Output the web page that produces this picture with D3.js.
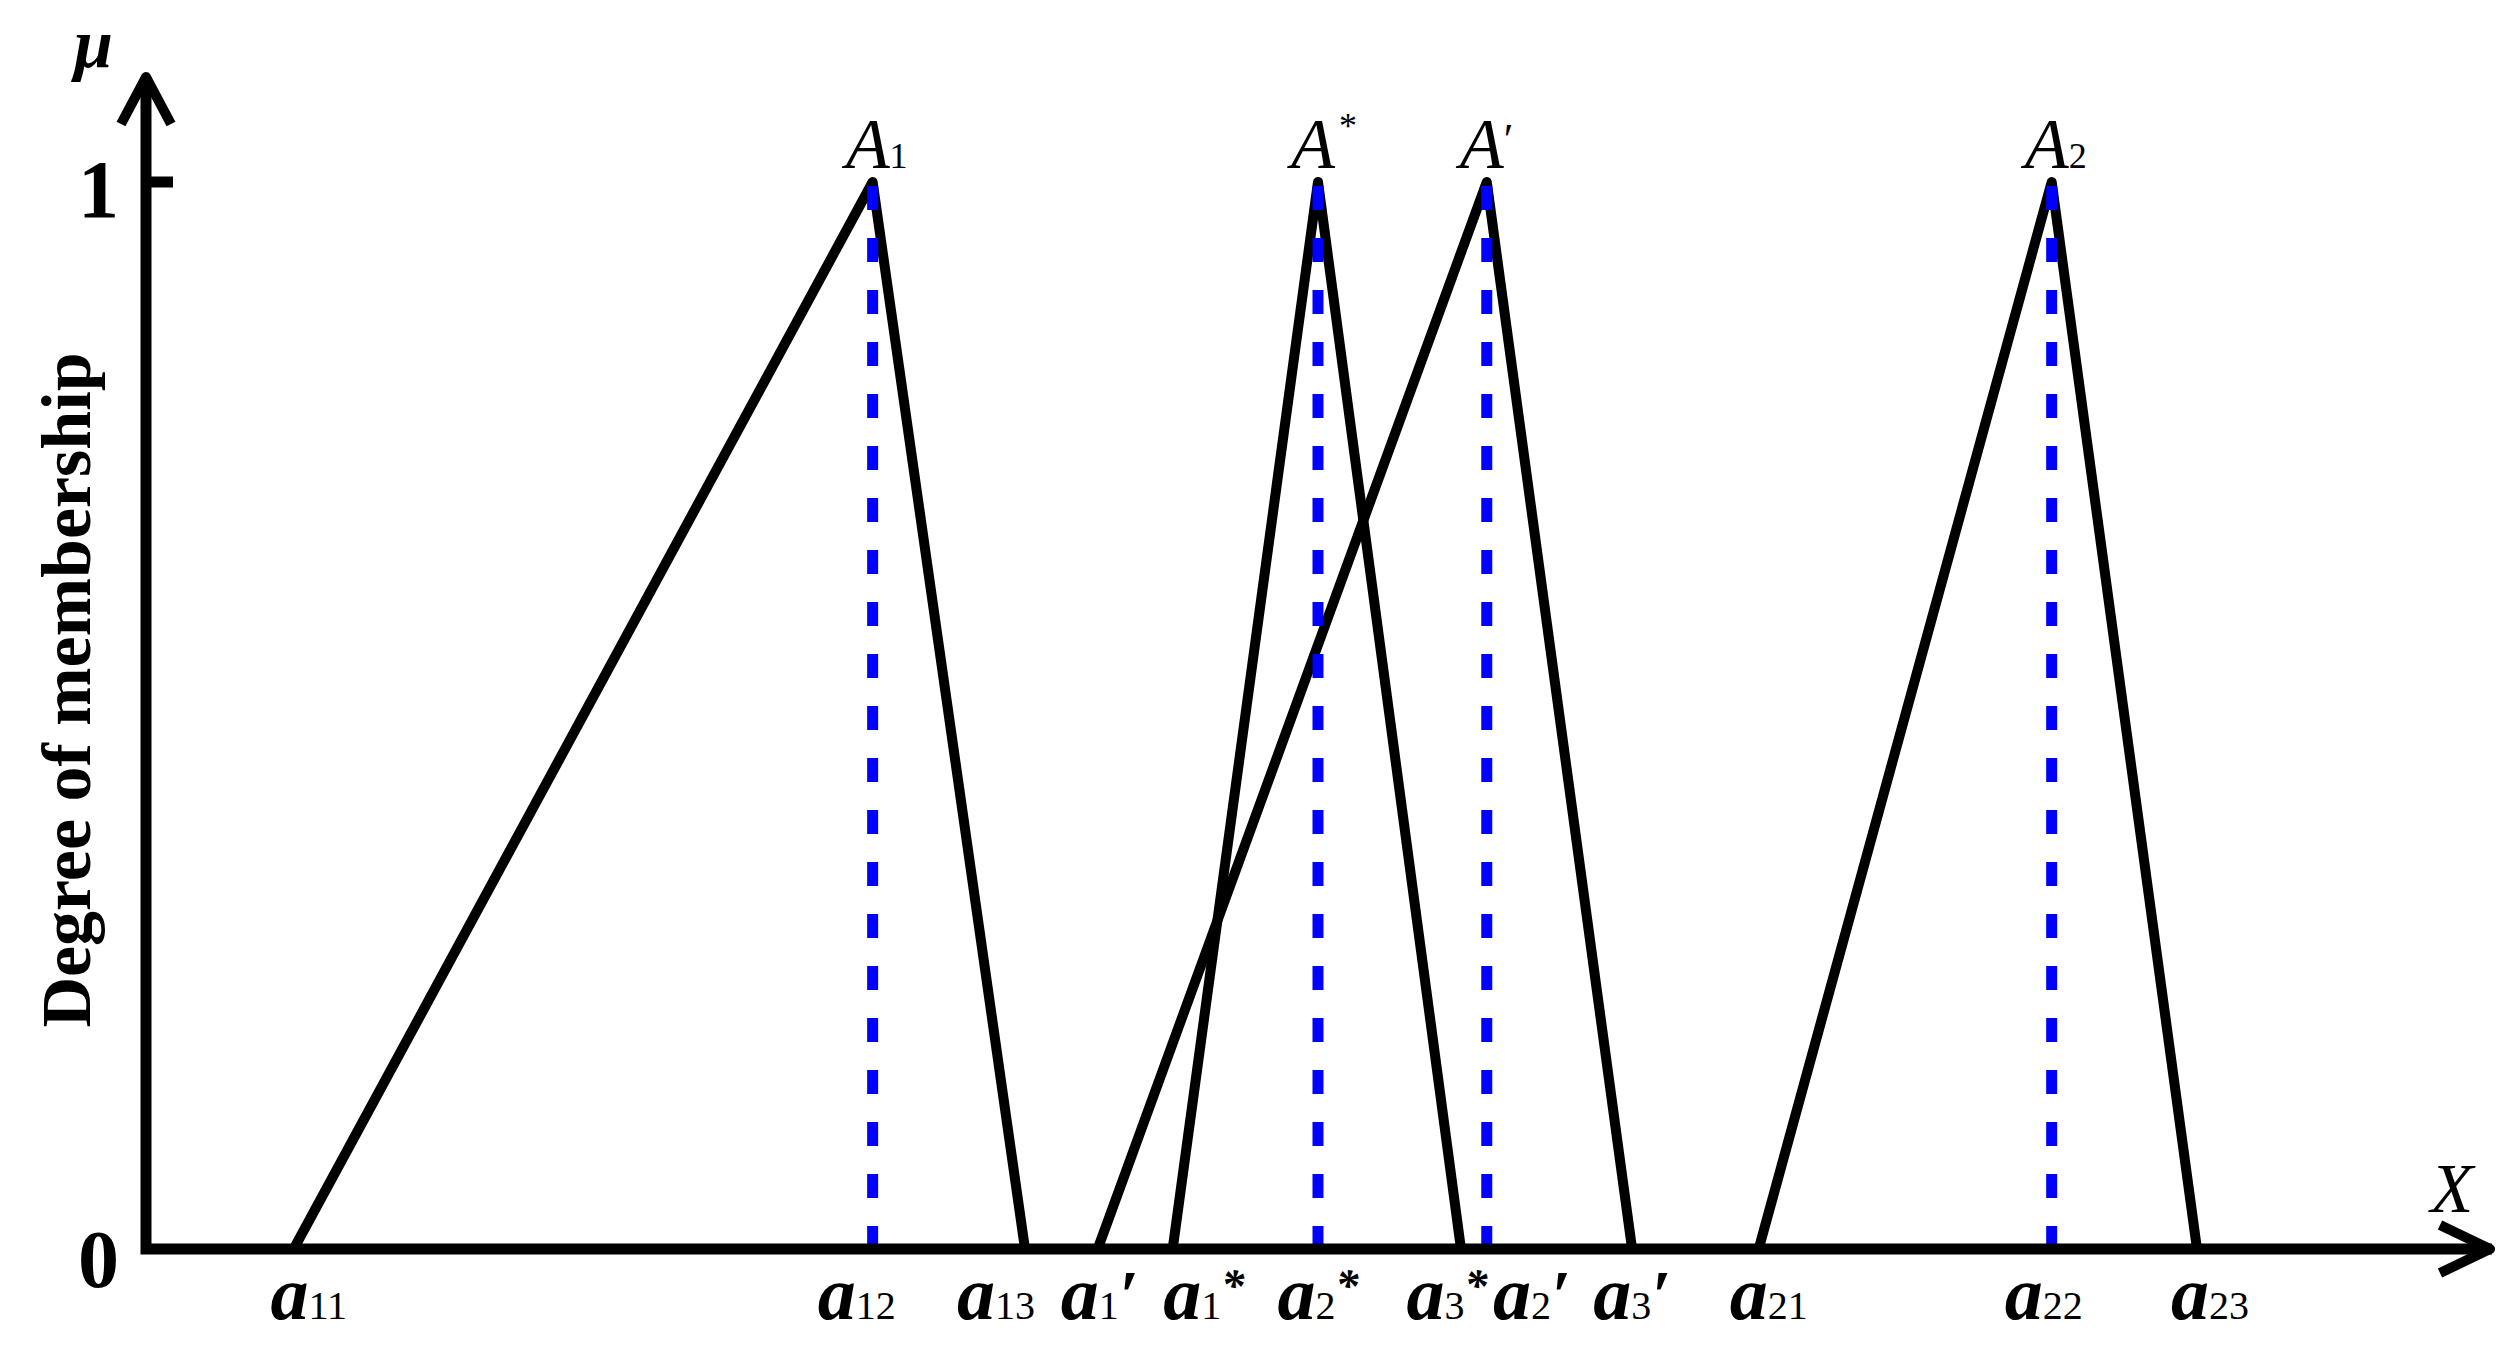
<!DOCTYPE html>
<html>
<head>
<meta charset="utf-8">
<script src="https://cdn.jsdelivr.net/npm/d3@7"></script>
<style>
  html, body { margin: 0; padding: 0; background: #fff; }
  svg { display: block; }
  text { font-family: "Liberation Serif", "Times New Roman", serif; fill: #000; }
</style>
</head>
<body>
<svg id="chart"></svg>
<script>
// fuzzy sets: left foot, peak, right foot (x units)
let setNames = ['A', 'A', 'A', 'A'];
let setMarks = ['1', '*', '′', '2'];
let leftFeet = [6.3, 43.8, 40.6, 68.8];
let peaks = [31.0, 50.0, 57.2, 81.3];
let rightFeet = [37.5, 56.1, 63.4, 87.5];

// x tick labels under the axis
let tickValues = [6.3, 31.0, 37.5, 40.6, 43.8, 50.0, 56.1, 57.2, 63.4, 68.8, 81.3, 87.5];
let tickSubs = ['11', '12', '13', '1', '1', '2', '3', '2', '3', '21', '22', '23'];
let tickMarks = ['', '', '', '′', '*', '*', '*', '′', '′', '', '', ''];

let yTicks = [0, 1];

let width = 2518, height = 1345;

let x = d3.scaleLinear().domain([0, 100]).range([146, 2490]);
let y = d3.scaleLinear().domain([0, 1]).range([1249, 182]);

let svg = d3.select('#chart')
		.attr('width', width)
		.attr('height', height);

let line = d3.line()
		.x(d => x(d[0]))
		.y(d => y(d[1]));

// triangles
let sets = peaks.map((p, i) => [[leftFeet[i], 0], [p, 1], [rightFeet[i], 0]]);

svg.append('g').selectAll('path')
		.data(sets)
	.enter().append('path')
		.attr('d', line)
		.attr('fill', 'none')
		.attr('stroke', '#000')
		.attr('stroke-width', 10)
		.attr('stroke-linejoin', 'round');

// dashed verticals at the peaks
svg.append('g').selectAll('path')
		.data(peaks)
	.enter().append('path')
		.attr('d', p => line([[p, 1], [p, 0]]))
		.attr('stroke', '#0000ff')
		.attr('stroke-width', 11)
		.attr('stroke-dasharray', '24,28')
		.attr('stroke-dashoffset', -4);

// axes with arrows
let x0 = x.range()[0], x1 = x.range()[1];
let yBase = y(0), yTop = 77;

svg.append('path')
		.attr('d', 'M' + x0 + ',' + yTop + 'V' + yBase + 'H' + (x1 + 2))
		.attr('fill', 'none')
		.attr('stroke', '#000')
		.attr('stroke-width', 11)
		.attr('stroke-linejoin', 'miter');

svg.append('path')
		.attr('d', 'M' + (x0 - 25) + ',' + (yTop + 47) + 'L' + x0 + ',' + yTop + 'L' + (x0 + 25) + ',' + (yTop + 47))
		.attr('fill', 'none')
		.attr('stroke', '#000')
		.attr('stroke-width', 10)
		.attr('stroke-linejoin', 'round');

svg.append('path')
		.attr('d', 'M' + (x1 - 50) + ',' + (yBase - 24) + 'L' + x1 + ',' + yBase + 'L' + (x1 - 50) + ',' + (yBase + 24))
		.attr('fill', 'none')
		.attr('stroke', '#000')
		.attr('stroke-width', 10)
		.attr('stroke-linejoin', 'round');

// y tick at 1
svg.append('line')
		.attr('x1', x0).attr('x2', x0 + 27)
		.attr('y1', y(1)).attr('y2', y(1))
		.attr('stroke', '#000')
		.attr('stroke-width', 11);

svg.selectAll('.ytick')
		.data(yTicks)
	.enter().append('text')
		.attr('class', 'ytick')
		.attr('x', 119)
		.attr('y', d => y(d) + (d === 0 ? 38 : 35))
		.attr('text-anchor', 'end')
		.attr('font-size', 82)
		.attr('font-weight', 'bold')
		.text(d => d);

// axis titles
svg.append('text')
		.attr('x', 74).attr('y', 67)
		.attr('font-size', 70)
		.attr('font-weight', 'bold')
		.attr('font-style', 'italic')
		.text('μ');

svg.append('text')
		.attr('x', 2452).attr('y', 1212)
		.attr('text-anchor', 'middle')
		.attr('font-size', 70)
		.attr('font-style', 'italic')
		.text('X');

svg.append('text')
		.attr('transform', 'translate(90,690) rotate(-90)')
		.attr('text-anchor', 'middle')
		.attr('font-size', 70)
		.attr('font-weight', 'bold')
		.text('Degree of membership');

// x tick labels, nudged apart where they crowd
let labelNudge = [15, -16, -29, 2, 31, 0, -14, 45, 0, 10, -8, 13];

let xl = svg.append('g').selectAll('text')
		.data(tickValues)
	.enter().append('text')
		.attr('x', (d, i) => x(d) + labelNudge[i])
		.attr('y', 1319)
		.attr('text-anchor', 'middle');

xl.append('tspan')
		.attr('font-size', 76)
		.attr('font-weight', 'bold')
		.attr('font-style', 'italic')
		.text('a');

xl.append('tspan')
		.attr('font-size', 40)
		.text((d, i) => tickSubs[i]);

xl.append('tspan')
		.attr('font-size', (d, i) => tickMarks[i] === '*' ? 46 : 70)
		.attr('font-weight', 'bold')
		.attr('font-style', 'italic')
		.attr('dy', (d, i) => tickMarks[i] === '*' ? -18 : 0)
		.text((d, i) => tickMarks[i]);

// set names above the peaks
let sl = svg.append('g').selectAll('text')
		.data(peaks)
	.enter().append('text')
		.attr('x', d => x(d) - 27)
		.attr('y', 168);

sl.append('tspan')
		.attr('font-size', 72)
		.attr('font-style', 'italic')
		.text((d, i) => setNames[i]);

sl.append('tspan')
		.attr('font-size', (d, i) => setMarks[i] === '′' ? 44 : 36)
		.attr('dy', (d, i) => setMarks[i] === '*' ? -30 : (setMarks[i] === '′' ? -14 : 0))
		.attr('dx', (d, i) => setMarks[i] === '*' ? 4 : 0)
		.text((d, i) => setMarks[i]);
</script>
</body>
</html>
